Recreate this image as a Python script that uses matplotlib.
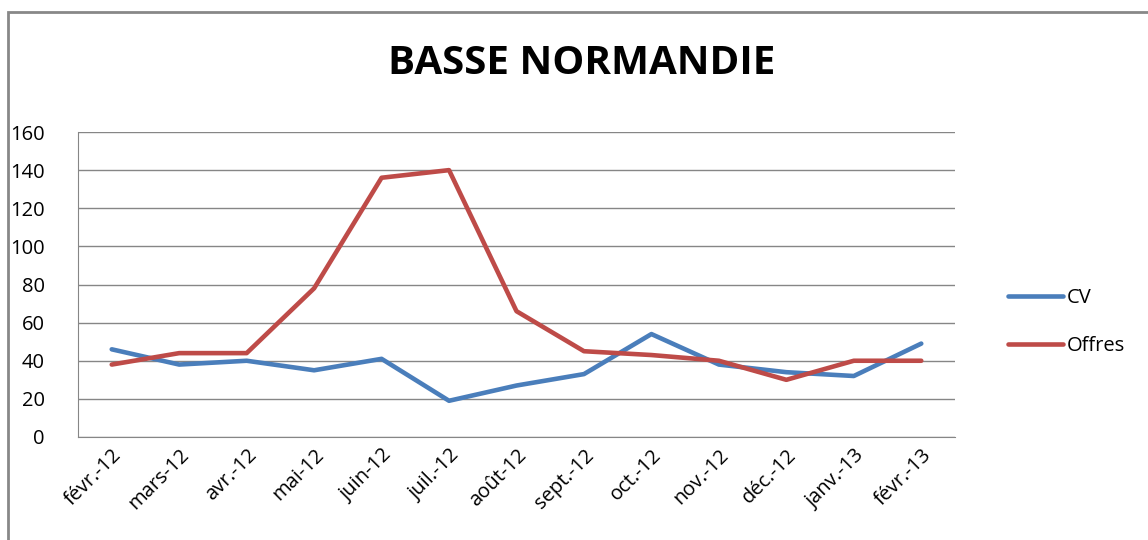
import matplotlib
matplotlib.use('Agg')
import matplotlib.pyplot as plt
from matplotlib.patches import Rectangle

mois = ['févr.-12', 'mars-12', 'avr.-12', 'mai-12', 'juin-12', 'juil.-12', 'août-12',
        'sept.-12', 'oct.-12', 'nov.-12', 'déc.-12', 'janv.-13', 'févr.-13']
cv = [46, 38, 40, 35, 41, 19, 27, 33, 54, 38, 34, 32, 49]
offres = [38, 44, 44, 78, 136, 140, 66, 45, 43, 40, 30, 40, 40]

plt.rcParams['font.family'] = ['Open Sans', 'DejaVu Sans']

fig = plt.figure(figsize=(11.48, 5.4), dpi=100)
ax = fig.add_axes([78/1148, 1-437/540, (955-78)/1148, (437-132)/540])

x = range(len(mois))
ax.plot(x, cv, color='#4A7EBB', lw=3.3, label='CV', solid_capstyle='round')
ax.plot(x, offres, color='#BE4B48', lw=3.3, label='Offres', solid_capstyle='round')

ax.set_xlim(-0.5, len(mois) - 0.5)
ax.set_ylim(0, 160)
ax.set_yticks(range(0, 161, 20))
ax.set_xticks(list(x))
ax.set_xticklabels(mois, rotation=45, ha='right', rotation_mode='anchor')
ax.tick_params(axis='both', length=0, labelsize=14.5, colors='#000000')
ax.tick_params(axis='y', pad=24)
ax.tick_params(axis='x', pad=6)

ax.grid(axis='y', color='#868686', lw=1)
ax.set_axisbelow(True)
for s in ['top', 'right']:
    ax.spines[s].set_visible(False)
ax.spines['left'].set_color('#868686')
ax.spines['bottom'].set_color('#868686')

fig.text(582/1148, 1-64/540, 'BASSE NORMANDIE', ha='center', va='center',
         fontsize=29, fontweight='bold')

leg = ax.legend(loc='center left', bbox_to_anchor=(1.040, 0.377), frameon=False,
                fontsize=14.5, handlelength=2.7, handletextpad=0.2, labelspacing=1.35)

# cadre du graphique
fig.patches.append(Rectangle((8/1148, -0.1), 1.2, 1.1 - 12/540, transform=fig.transFigure,
                             fill=False, edgecolor='#888888', lw=2))

fig.savefig('out.png', dpi=100)
